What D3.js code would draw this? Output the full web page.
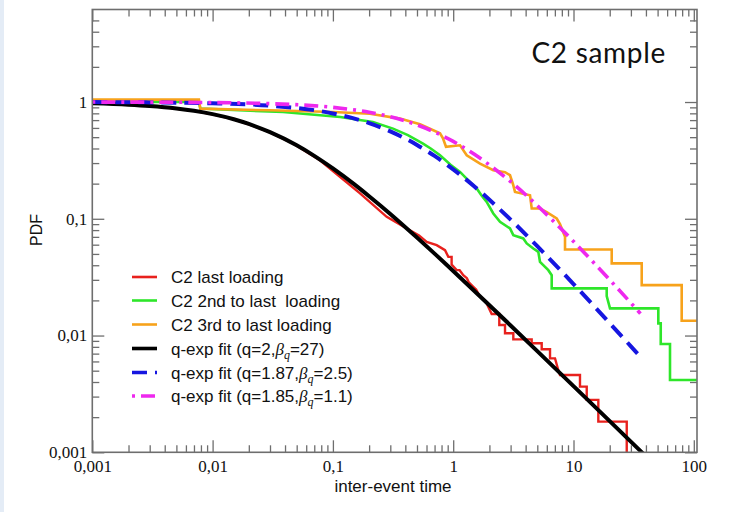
<!DOCTYPE html>
<html>
<head>
<meta charset="utf-8">
<script src="https://cdn.jsdelivr.net/npm/d3@7"></script>
<style>
  html, body { margin: 0; padding: 0; background: #ffffff; }
  svg { display: block; }
</style>
</head>
<body>
<svg id="chart" width="732" height="512"></svg>
<script>
// Empirical inter-event time distributions (step histograms), [time, pdf]
const lastLoading = [
  [0.001,0.98],[0.002,0.95],[0.004,0.90],[0.007,0.84],[0.01,0.785],[0.015,0.71],
  [0.02,0.645],[0.03,0.55],[0.047,0.44],[0.078,0.317],[0.115,0.228],[0.168,0.165],
  [0.28,0.104],[0.411,0.0826],[0.52,0.072],[0.602,0.0634],[0.729,0.0595],[0.855,0.0539],
  [0.911,0.0472],[0.97,0.0472],[0.97,0.0405],[1.069,0.0363],[1.13,0.0363],[1.213,0.0329],
  [1.30,0.0310],[1.35,0.0285],[1.469,0.02615],[1.55,0.0248],[1.671,0.02147],[1.78,0.0205],
  [1.898,0.01884],[2.089,0.01528],[2.416,0.01528],[2.416,0.0123],[2.696,0.0123],
  [2.696,0.01045],[3.16,0.01045],[3.16,0.00928],[4.49,0.00928],[4.49,0.00858],
  [5.44,0.00858],[5.44,0.00762],[6.38,0.00762],[6.38,0.00638],[7.02,0.00638],
  [7.47,0.00507],[7.72,0.00459],[11.32,0.00459],[11.32,0.00365],[12.88,0.00365],
  [12.88,0.00281],[16.08,0.00281],[16.08,0.00183],[27.7,0.00183],[27.7,0.0008]
];
const secondToLast = [
  [0.001,1.0],[0.0077,1.0],[0.0079,0.878],[0.0385,0.821],[0.115,0.744],[0.215,0.674],
  [0.316,0.592],[0.42,0.52],[0.561,0.441],[0.65,0.40],[0.777,0.350],[0.95,0.29],
  [1.139,0.252],[1.38,0.206],[1.568,0.182],[1.72,0.158],[1.898,0.1395],[2.154,0.111],
  [2.449,0.0941],[2.966,0.0826],[3.16,0.0724],[3.825,0.0679],[4.083,0.0615],
  [4.632,0.0557],[5.098,0.0521],[5.266,0.0428],[6.172,0.0363],[6.589,0.0329],
  [6.589,0.02533],[18.88,0.02533],[18.88,0.02177],[20.11,0.01709],[50.7,0.01709],
  [50.7,0.01272],[53.1,0.01272],[53.1,0.00846],[63.4,0.00846],[63.4,0.00416],[106,0.00416]
];
const thirdToLast = [
  [0.001,1.048],[0.0077,1.048],[0.0079,0.878],[0.030,0.849],[0.100,0.821],[0.203,0.793],
  [0.361,0.721],[0.530,0.645],[0.777,0.540],[0.822,0.489],[0.871,0.414],[1.139,0.426],
  [1.295,0.350],[1.671,0.297],[2.154,0.2604],[2.696,0.2503],[2.966,0.236],[3.141,0.1977],
  [3.263,0.1699],[4.349,0.1592],[4.494,0.1225],[5.266,0.1225],[5.986,0.1139],
  [7.251,0.1006],[7.722,0.0899],[8.50,0.0700],[8.50,0.0546],[20.78,0.0546],
  [20.78,0.0415],[36.9,0.0415],[36.9,0.0270],[79.3,0.0270],[79.3,0.01338],[106,0.01338]
];

// q-exponential fits, [time, pdf]
const fitQ2 = [
  [0.001,0.974],[0.002,0.949],[0.003,0.925],[0.005,0.881],[0.007,0.841],[0.01,0.787],
  [0.015,0.712],[0.02,0.649],[0.03,0.552],[0.05,0.426],[0.07,0.346],[0.1,0.270],
  [0.15,0.198],[0.2,0.156],[0.3,0.110],[0.5,0.0690],[0.7,0.0503],[1,0.0357],
  [2,0.0182],[3,0.0122],[5,0.00735],[10,0.00369],[20,0.00185],[40,0.000925]
];
const fitQ187 = [
  [0.001,0.998],[0.003,0.9926],[0.01,0.9756],[0.03,0.930],[0.1,0.798],[0.2,0.660],
  [0.3,0.561],[0.5,0.429],[0.7,0.3454],[1,0.265],[1.5,0.189],[2,0.1456],[3,0.0984],
  [5,0.0583],[7,0.0407],[10,0.0276],[15,0.01761],[20,0.01276],[30,0.00808],[36,0.00657]
];
const fitQ185 = [
  [0.001,0.999],[0.003,0.9967],[0.01,0.989],[0.03,0.968],[0.1,0.900],[0.2,0.817],
  [0.3,0.748],[0.5,0.637],[0.7,0.5527],[1,0.460],[1.5,0.3566],[2,0.289],[3,0.208],
  [5,0.1298],[7,0.0928],[10,0.0640],[15,0.0412],[20,0.0300],[30,0.0190],[36,0.0154]
];

const seriesNames = [
  "C2 last loading",
  "C2 2nd to last  loading",
  "C2 3rd to last loading",
  "q-exp fit (q=2,",
  "q-exp fit (q=1.87,",
  "q-exp fit (q=1.85,"
];
const betaValues = ["27", "2.5", "1.1"];

const xMajorTicks = [0.001, 0.01, 0.1, 1, 10, 100];
const yMajorTicks = [0.001, 0.01, 0.1, 1];

const svg = d3.select("#chart");

// plot frame
const frameL = 92.3, frameR = 697, frameT = 9.5, frameB = 452.3;

const x = d3.scaleLog().domain([0.001, 106.3]).range([frameL, frameR]);
const y = d3.scaleLog().domain([0.001, 6.2]).range([frameB, frameT]);

// thin tinted strip on the page edge
svg.append("rect").attr("x", 0).attr("y", 0).attr("width", 4).attr("height", 512)
  .attr("fill", "#e4ecf6");

const fmt = d => String(d).replace(".", ",");

function minorTicks(lo, hi, maxVal) {
  const out = [];
  for (let p = lo; p < hi; p++) {
    for (let m = 2; m <= 9; m++) {
      const v = m * Math.pow(10, p);
      if (v <= maxVal) out.push(+v.toPrecision(3));
    }
  }
  return out;
}
const xMinor = minorTicks(-3, 2, 100);
const yMinor = minorTicks(-3, 1, 5.5);

const axisColor = "#6e6e6e";

function styleAxis(g) {
  g.select(".domain").remove();
  g.selectAll(".tick line").attr("stroke", axisColor).attr("stroke-width", 1.3);
  g.selectAll("text").attr("font-family", "'Liberation Serif', 'DejaVu Serif', serif")
    .attr("font-size", 17).attr("fill", "#111");
}

// bottom axis: inward ticks with labels
svg.append("g").attr("transform", `translate(0,${frameB})`)
  .call(d3.axisBottom(x).tickValues(xMajorTicks).tickSize(-12).tickPadding(8).tickFormat(fmt))
  .call(styleAxis);
svg.append("g").attr("transform", `translate(0,${frameB})`)
  .call(d3.axisBottom(x).tickValues(xMinor).tickSize(-7).tickFormat(""))
  .call(styleAxis);
// top axis: ticks only
svg.append("g").attr("transform", `translate(0,${frameT})`)
  .call(d3.axisTop(x).tickValues(xMajorTicks).tickSize(-12).tickFormat(""))
  .call(styleAxis);
svg.append("g").attr("transform", `translate(0,${frameT})`)
  .call(d3.axisTop(x).tickValues(xMinor).tickSize(-7).tickFormat(""))
  .call(styleAxis);
// left axis
svg.append("g").attr("transform", `translate(${frameL},0)`)
  .call(d3.axisLeft(y).tickValues(yMajorTicks).tickSize(-12).tickPadding(5).tickFormat(fmt))
  .call(styleAxis);
svg.append("g").attr("transform", `translate(${frameL},0)`)
  .call(d3.axisLeft(y).tickValues(yMinor).tickSize(-7).tickFormat(""))
  .call(styleAxis);
// right axis
svg.append("g").attr("transform", `translate(${frameR},0)`)
  .call(d3.axisRight(y).tickValues(yMajorTicks).tickSize(-12).tickFormat(""))
  .call(styleAxis);
svg.append("g").attr("transform", `translate(${frameR},0)`)
  .call(d3.axisRight(y).tickValues(yMinor).tickSize(-7).tickFormat(""))
  .call(styleAxis);

// clip for the curves
svg.append("clipPath").attr("id", "plotClip")
  .append("rect").attr("x", frameL).attr("y", frameT)
  .attr("width", frameR - frameL).attr("height", frameB - frameT);

const plot = svg.append("g").attr("clip-path", "url(#plotClip)");

const stepLine = d3.line().x(d => x(d[0])).y(d => y(d[1]));
const fitLine = d3.line().x(d => x(d[0])).y(d => y(d[1])).curve(d3.curveMonotoneX);

const styles = [
  { data: lastLoading,  color: "#e8211d", width: 2.4, dash: null, gen: stepLine },
  { data: secondToLast, color: "#2ee62a", width: 2.6, dash: null, gen: stepLine },
  { data: thirdToLast,  color: "#f7a21b", width: 2.6, dash: null, gen: stepLine },
  { data: fitQ2,        color: "#000000", width: 4,   dash: null, gen: fitLine },
  { data: fitQ187,      color: "#1616e0", width: 4,   dash: "15,8", gen: fitLine },
  { data: fitQ185,      color: "#ee28ee", width: 3.6, dash: "3,6,14,6", gen: fitLine }
];

styles.forEach(s => {
  plot.append("path")
    .attr("d", s.gen(s.data))
    .attr("fill", "none")
    .attr("stroke", s.color)
    .attr("stroke-width", s.width)
    .attr("stroke-linejoin", "miter")
    .attr("stroke-dasharray", s.dash);
});

// frame
svg.append("rect").attr("x", frameL).attr("y", frameT)
  .attr("width", frameR - frameL).attr("height", frameB - frameT)
  .attr("fill", "none").attr("stroke", axisColor).attr("stroke-width", 1.6);

// legend
const legend = svg.append("g");
const rowY = [277, 300.5, 324.5, 348.5, 372.5, 396];
styles.forEach((s, i) => {
  legend.append("line")
    .attr("x1", 132).attr("x2", 157).attr("y1", rowY[i]).attr("y2", rowY[i])
    .attr("stroke", s.color).attr("stroke-width", i >= 3 ? 3.6 : 2.6)
    .attr("stroke-dasharray", s.dash);
  const t = legend.append("text")
    .attr("x", 171).attr("y", rowY[i] + 6)
    .attr("font-family", "'Liberation Sans', Arial, sans-serif")
    .attr("font-size", 17).attr("fill", "#111")
    .attr("xml:space", "preserve")
    .style("white-space", "pre");
  t.append("tspan").text(seriesNames[i]);
  if (i >= 3) {
    t.append("tspan").attr("font-family", "'Liberation Serif', serif").attr("font-style", "italic").text("β");
    t.append("tspan").attr("font-family", "'Liberation Serif', serif").attr("font-style", "italic")
      .attr("font-size", 12).attr("dy", 4).text("q");
    t.append("tspan").attr("dy", -4).text("=" + betaValues[i - 3] + ")");
  }
});

// axis titles
svg.append("text").attr("x", 393).attr("y", 492)
  .attr("text-anchor", "middle")
  .attr("font-family", "'Liberation Sans', Arial, sans-serif").attr("font-size", 17)
  .attr("fill", "#111").text("inter-event time");
svg.append("text")
  .attr("transform", "translate(42,230) rotate(-90)")
  .attr("text-anchor", "middle")
  .attr("font-family", "'Liberation Sans', Arial, sans-serif").attr("font-size", 16)
  .attr("fill", "#111").text("PDF");

// panel title
svg.append("text").attr("x", 666).attr("y", 63)
  .attr("text-anchor", "end")
  .attr("font-family", "Lato, 'Noto Sans', sans-serif").attr("font-size", 28)
  .attr("letter-spacing", 0.7)
  .attr("fill", "#111").text("C2 sample");
</script>
</body>
</html>
